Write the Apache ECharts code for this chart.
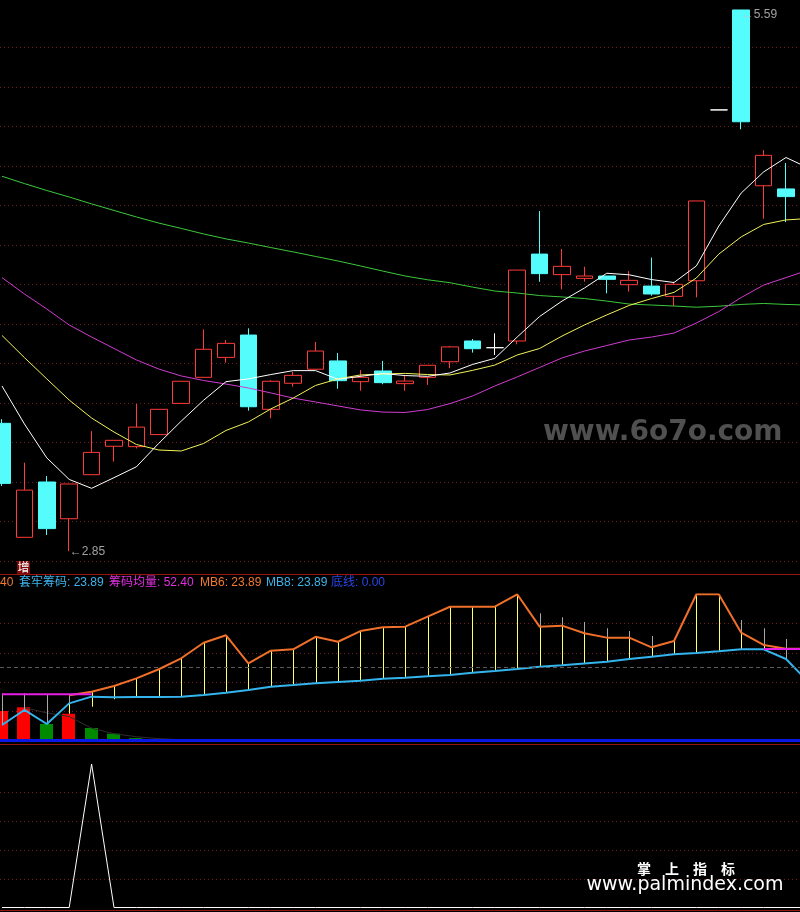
<!DOCTYPE html>
<html><head><meta charset="utf-8">
<script src="https://cdn.jsdelivr.net/npm/echarts@6/dist/echarts.min.js"></script>
<style>html,body{margin:0;padding:0;background:#000;}#c{width:800px;height:912px;}</style>
</head><body><div id="c"></div>
<script>
// ---------- main panel (K-line) ----------
const openP  = [3.497,2.920,3.200,3.014,3.237,3.381,3.379,3.440,3.598,3.730,3.831,3.944,3.568,3.700,3.771,3.813,3.708,3.762,3.698,3.730,3.809,3.914,3.880,3.914,4.354,4.250,4.231,4.243,4.199,4.192,4.140,4.219,5.084,5.590,4.700,4.684,4.522];
const closeP = [3.193,3.159,2.964,3.190,3.350,3.411,3.478,3.568,3.710,3.872,3.902,3.581,3.710,3.740,3.863,3.713,3.730,3.703,3.711,3.791,3.884,3.875,3.880,4.273,4.255,4.292,4.243,4.226,4.221,4.152,4.201,4.623,5.084,5.024,4.854,4.645,4.348];
const highP  = [3.518,3.298,3.230,3.190,3.458,3.411,3.595,3.568,3.710,3.973,3.919,3.978,3.715,3.757,3.909,3.853,3.767,3.813,3.738,3.791,3.889,3.924,3.953,4.273,4.572,4.380,4.290,4.243,4.268,4.336,4.214,4.623,5.084,5.590,4.880,4.815,4.560];
const lowP   = [3.180,2.920,2.932,2.850,3.237,3.303,3.370,3.440,3.598,3.730,3.804,3.561,3.523,3.683,3.771,3.672,3.662,3.695,3.662,3.691,3.776,3.855,3.843,3.897,4.214,4.176,4.214,4.155,4.164,4.143,4.091,4.135,5.084,4.986,4.533,4.516,4.330];
const ma5  = [3.686,3.494,3.322,3.213,3.168,3.222,3.277,3.396,3.508,3.614,3.708,3.722,3.744,3.764,3.764,3.720,3.735,3.749,3.739,3.735,3.752,3.795,3.826,3.934,4.038,4.116,4.182,4.257,4.249,4.225,4.210,4.294,4.496,4.663,4.770,4.843,4.790];
const ma10 = [3.942,3.830,3.722,3.615,3.524,3.453,3.390,3.362,3.357,3.395,3.461,3.504,3.570,3.625,3.689,3.722,3.742,3.747,3.750,3.744,3.742,3.765,3.792,3.843,3.876,3.939,3.995,4.046,4.094,4.129,4.160,4.233,4.354,4.441,4.504,4.527,4.534];
const ma30 = [4.235,4.152,4.076,3.995,3.934,3.876,3.818,3.772,3.737,3.714,3.696,3.676,3.651,3.625,3.605,3.585,3.565,3.554,3.552,3.567,3.597,3.635,3.686,3.732,3.780,3.828,3.863,3.891,3.919,3.934,3.954,4.005,4.063,4.134,4.197,4.235,4.273];
const ma60 = [4.748,4.711,4.676,4.643,4.608,4.575,4.542,4.511,4.484,4.456,4.431,4.410,4.387,4.365,4.342,4.319,4.294,4.268,4.243,4.224,4.209,4.187,4.167,4.157,4.144,4.137,4.129,4.116,4.101,4.096,4.091,4.085,4.090,4.099,4.104,4.099,4.096];

// ---------- middle panel (chips indicator) ----------
const mb6 = [null,null,null,31.0,33.5,37.4,42.6,48.8,56.3,66.9,72.0,52.9,61.5,62.4,71.0,67.6,74.9,77.5,77.9,84.7,91.5,91.5,91.5,100,77.9,78.6,73.4,70.4,70.4,63.8,68.1,100,100,73.8,65.4,62.8,62.8];
const mb8 = [10.7,21.0,11.4,25.5,30.1,29.6,29.8,29.8,30.1,31.2,32.8,34.6,36.9,38.0,39.2,40.1,41.0,42.3,43.0,44.1,44.9,46.4,47.6,49.0,50.5,51.5,52.8,53.9,55.8,57.4,59.0,59.9,61.1,62.4,62.4,55.8,40.1];
const chipAvg = [31.7,31.7,31.7,31.7,31.7,null,null,null,null,null,null,null,null,null,null,null,null,null,null,null,null,null,null,null,null,null,null,null,null,null,null,null,null,null,62.6,62.6,62.6];
const grayTop = [32.4,32.4,31.2,31.2,null,null,null,null,null,null,null,null,null,null,null,null,null,null,null,null,null,null,null,null,87.0,84.3,81.1,76.8,74.9,71.5,null,null,null,82.4,76.8,69.5,null];
const yellowHi = [null,null,null,25.5,33.5,37.4,42.6,48.8,56.3,66.9,72.0,52.9,61.5,62.4,71.0,67.6,74.9,77.5,77.9,84.7,91.5,91.5,91.5,100,77.9,78.6,73.4,70.4,70.4,63.8,68.1,100,100,73.8,65.4,null,null];
const yellowLo = [null,null,null,18.4,23.2,28.3,29.8,29.8,30.1,31.2,32.8,34.6,36.9,38.0,39.2,40.1,41.0,42.3,43.0,44.1,44.9,46.4,47.6,49.0,50.5,51.5,52.8,53.9,55.8,57.4,59.0,59.9,61.1,62.4,62.4,null,null];
const chipBars = [20.3,22.8,11.4,18.4,8.7,4.8,1.8,1.2];
const chipBarTrend = [null,22.5,19.0,16.5,8.5,4.8,2.7,1.4,0.7,0.3,0.1];
const baseLine = 0;
const refLevel = 50;
const legendItems = [
  {text:'40', color:'#f07a30'},
  {text:'套牢筹码: 23.89', color:'#3cb4ec'},
  {text:'筹码均量: 52.40', color:'#e030e0'},
  {text:'MB6: 23.89', color:'#f07a30'},
  {text:'MB8: 23.89', color:'#3cb4ec'},
  {text:'底线: 0.00', color:'#2a46e8'}
];
const legendX = [0, 19, 109, 200, 266, 331];

// ---------- bottom panel ----------
const signal = [0,0,0,0,100,0,0,0,0,0,0,0,0,0,0,0,0,0,0,0,0,0,0,0,0,0,0,0,0,0,0,0,0,0,0,0,0];

const UP = '#ff3a3a', DOWN = '#54fcfc';
const GRID_C = '#6e1c1c';
const xMin = -0.0893, xMax = 35.625;
const idx = openP.map((_, i) => i);

const chart = echarts.init(document.getElementById('c'), null, {renderer:'canvas'});

function seg(x1, y1, x2, y2, color) {
  return {type:'line', silent:true, shape:{x1:x1, y1:y1, x2:x2, y2:y2}, style:{stroke:color, lineWidth:1}};
}

function stickRenderer(color) {
  return function(params, api) {
    const i = api.value(0);
    const p1 = api.coord([i, api.value(1)]), p2 = api.coord([i, api.value(2)]);
    const x = Math.round(p1[0]) + 0.5;
    return seg(x, p1[1], x, p2[1], color);
  };
}

function barItem(params, api) {
  const i = api.value(0), v = api.value(1), prev = api.value(2);
  const p0 = api.coord([i, 0]), p1 = api.coord([i, v]);
  const x = Math.round(p0[0]);
  const color = (i === 0 || v >= prev) ? '#ff0000' : '#008a00';
  return {type:'rect', silent:true, shape:{x:x - 7, y:p1[1], width:13, height:p0[1] - p1[1]}, style:{fill:color}};
}

const pairs = (arr) => arr.map((v, i) => [i, v]);
// candlestick data: [x, open, close, lowest, highest]
const candleData = idx.map(i => [i, openP[i], closeP[i], lowP[i], highP[i]]);
const grayData = idx.filter(i => grayTop[i] != null).map(i => [i, mb8[i], grayTop[i]]);
const yellowData = idx.filter(i => yellowHi[i] != null).map(i => [i, yellowLo[i], yellowHi[i]]);
const barData = chipBars.map((v, i) => [i, v, i > 0 ? chipBars[i - 1] : v]);

let hiI = 0, loI = 0;
highP.forEach((v, i) => { if (v > highP[hiI]) hiI = i; });
lowP.forEach((v, i) => { if (v < lowP[loI]) loI = i; });

const xAxisBase = {type:'value', min:xMin, max:xMax, show:false, splitLine:{show:false}};
const yStyle = (min, max, interval, showMin) => ({
  type:'value', min:min, max:max, interval:interval, scale:true,
  axisLine:{show:false}, axisTick:{show:false}, axisLabel:{show:false},
  splitLine:{show:true, showMinLine:showMin, showMaxLine:false, lineStyle:{color:GRID_C, type:[1,3], width:1}}
});

const lineS = (name, data, color, xi, width, z) => ({
  name:name, type:'line', xAxisIndex:xi, yAxisIndex:xi, data:pairs(data),
  showSymbol:false, symbol:'none', connectNulls:false, animation:false, z:z || 3, silent:true,
  lineStyle:{color:color, width:width || 1}
});

const customS = (name, xi, fn, data, yDims, z) => ({
  type:'custom', name:name, xAxisIndex:xi, yAxisIndex:xi, renderItem:fn, data:data,
  encode:{x:0, y:yDims}, z:z, silent:true, animation:false
});

const labelFamily = '"Liberation Sans", Arial, "DejaVu Sans", sans-serif';

const option = {
  backgroundColor:'#000',
  animation:false,
  grid:[
    {left:0, right:0, top:8, height:553, show:false},
    {left:0, right:0, top:594.3, height:146.4, show:false},
    {left:0, right:0, top:764, height:143.5, show:false}
  ],
  xAxis:[Object.assign({gridIndex:0}, xAxisBase), Object.assign({gridIndex:1}, xAxisBase), Object.assign({gridIndex:2}, xAxisBase)],
  yAxis:[
    Object.assign({gridIndex:0}, yStyle(2.8, 5.6, 0.2, true)),
    Object.assign({gridIndex:1}, yStyle(0, 100, 20, false)),
    Object.assign({gridIndex:2}, yStyle(0, 100, 20, false))
  ],
  series:[
    {type:'candlestick', name:'K', xAxisIndex:0, yAxisIndex:0, data:candleData,
     encode:{x:0, y:[1,2,3,4]}, barWidth:17, z:2, silent:true, animation:false, clip:false,
     itemStyle:{color:'#000000', color0:DOWN, borderColor:UP, borderColor0:DOWN,
                borderColorDoji:'#ffffff', borderWidth:1}},
    lineS('MA60', ma60, '#3cc83c', 0),
    lineS('MA30', ma30, '#d03cd0', 0),
    lineS('MA10', ma10, '#f2f25a', 0),
    lineS('MA5', ma5, '#ffffff', 0),
    {type:'scatter', xAxisIndex:0, yAxisIndex:0, data:[[hiI, highP[hiI]]], symbolSize:1, silent:true,
     itemStyle:{color:'rgba(0,0,0,0)'}, z:5,
     label:{show:true, position:'right', distance:0, offset:[0,5], color:'#c8c8c8', fontSize:12,
            fontFamily:labelFamily, formatter:p => '\u2190' + p.value[1].toFixed(2)}},
    {type:'scatter', xAxisIndex:0, yAxisIndex:0, data:[[loI, lowP[loI]]], symbolSize:1, silent:true,
     itemStyle:{color:'rgba(0,0,0,0)'}, z:5,
     label:{show:true, position:'right', distance:0, offset:[0,1], color:'#c8c8c8', fontSize:12,
            fontFamily:labelFamily, formatter:p => '\u2190' + p.value[1].toFixed(2)}},

    // middle panel
    customS('bars', 1, barItem, barData, [1], 2),
    lineS('trend', chipBarTrend, '#2e2e2e', 1, 1, 2),
    customS('gray', 1, stickRenderer('#a8a8a8'), grayData, [1,2], 3),
    customS('yellow', 1, stickRenderer('#ffff66'), yellowData, [1,2], 3),
    lineS('MB8', mb8, '#34b4ec', 1, 2, 4),
    lineS('MB6', mb6, '#f0702a', 1, 2, 5),
    Object.assign(lineS('筹码均量', chipAvg, '#e61ee6', 1, 2, 6), {
      markLine:{silent:true, symbol:'none', animation:false, label:{show:false},
        data:[
          {yAxis:baseLine, lineStyle:{color:'#0a18e6', width:3, type:'solid'}},
          {yAxis:refLevel, lineStyle:{color:'#5a5a5a', width:1, type:[4,3]}}
        ]}
    }),

    // bottom panel
    lineS('signal', signal, '#ffffff', 2, 1, 3)
  ],
  graphic:[
    {type:'line', silent:true, shape:{x1:0, y1:574.5, x2:800, y2:574.5}, style:{stroke:'#961414', lineWidth:1}, z:10},
    {type:'line', silent:true, shape:{x1:0, y1:744.5, x2:800, y2:744.5}, style:{stroke:'#961414', lineWidth:1}, z:10},
    {type:'line', silent:true, shape:{x1:0, y1:910.5, x2:800, y2:910.5}, style:{stroke:'#961414', lineWidth:1}, z:10},
    {type:'rect', silent:true, shape:{x:17, y:561, width:13, height:13}, style:{fill:'#7c0a0a'}, z:10},
    {type:'text', silent:true, x:23.5, y:567.5, style:{text:'增', fill:'#ffffff', font:'12px "Noto Sans CJK SC", sans-serif', align:'center', verticalAlign:'middle'}, z:11},
    ...legendItems.map((it, k) => ({type:'text', silent:true, x:legendX[k], y:583,
      style:{text:it.text, fill:it.color, font:'12px "Liberation Sans", "Noto Sans CJK SC", sans-serif', align:'left', verticalAlign:'middle'}, z:11})),
    {type:'text', silent:true, x:543, y:433, style:{text:'www.6o7o.com', fill:'#505050', font:'bold 28px "DejaVu Sans", sans-serif', align:'left', verticalAlign:'middle'}, z:1},
    {type:'text', silent:true, x:686, y:869, style:{text:'掌　上　指　标', fill:'#ffffff', font:'bold 14px "Noto Sans CJK SC", sans-serif', align:'center', verticalAlign:'middle'}, z:11},
    {type:'text', silent:true, x:685, y:885, style:{text:'www.palmindex.com', fill:'#ffffff', font:'19px "DejaVu Sans", sans-serif', align:'center', verticalAlign:'middle'}, z:11}
  ]
};
chart.setOption(option);
</script>
</body></html>
